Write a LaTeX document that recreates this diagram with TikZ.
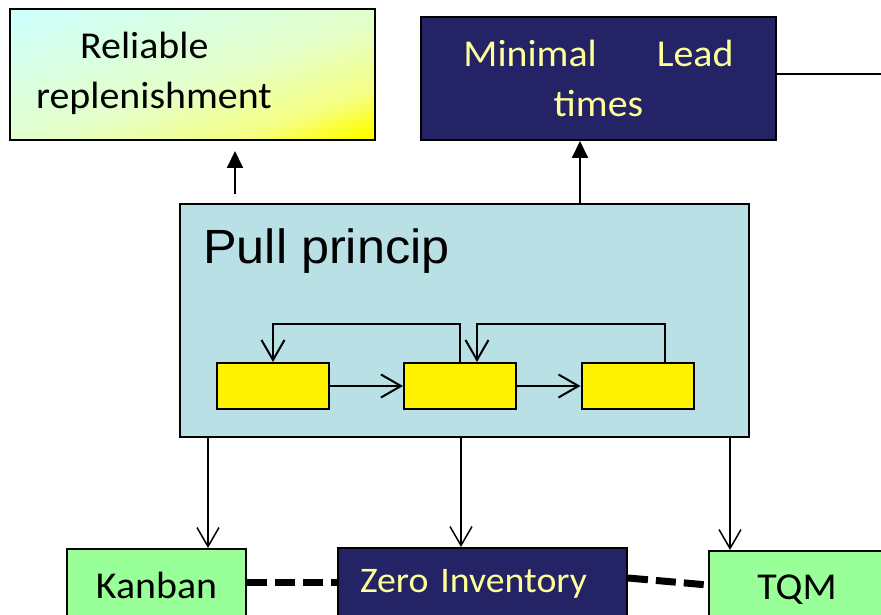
\documentclass[tikz,border=0pt]{standalone}
\usepackage{fontspec}
\setmainfont{Carlito}[FakeStretch=1.05]
\newfontfamily\arialfont{Liberation Sans}[FakeStretch=1.05]
\usetikzlibrary{arrows.meta}
\definecolor{navy}{RGB}{35,35,102}
\definecolor{paleyellow}{RGB}{255,255,153}
\definecolor{pullblue}{RGB}{185,224,228}
\definecolor{kgreen}{RGB}{153,255,153}
\definecolor{topcyan}{RGB}{204,255,255}
\definecolor{midgreen}{RGB}{228,255,200}
\definecolor{lightyellow}{RGB}{245,255,130}
\pgfdeclareverticalshading{relshade}{100bp}{color(0bp)=(yellow); color(17bp)=(yellow);
  color(28bp)=(lightyellow); color(47bp)=(midgreen); color(86bp)=(topcyan); color(100bp)=(topcyan)}

\begin{document}
\begin{tikzpicture}[x=1pt,y=-1pt,
  box/.style={draw=black,line width=2pt,rectangle,inner sep=0pt},
  bigfont/.style={font=\fontsize{38}{50}\selectfont},
  darkbox/.style={box,fill=navy,text=paleyellow,bigfont},
  greenbox/.style={box,fill=kgreen,bigfont},
  cell/.style={box,fill=yellow,minimum width=112pt,minimum height=46pt},
  barb/.style={-{Straight Barb[length=20pt,width=23pt]},line width=2pt},
  thinbarb/.style={-{Straight Barb[length=19pt,width=22pt]},line width=1.5pt},
  uparrow/.style={-{Triangle[length=17pt,width=16pt]},line width=2pt},
  link/.style={line width=7pt,dash pattern=on 20pt off 8pt}]

	\clip (0,0) rectangle (881,615);

	%top boxes
	\shade[shading=relshade,shading angle=45,
	  transform canvas={shift={(10,9)},xscale=3.65,yscale=1.31}] (0,0) rectangle (100,100); %gradient
	\node[box,minimum width=365pt,minimum height=131pt] (reliable) at (192.5,74.5) {};
	\node[bigfont,align=left,anchor=west,inner sep=0pt] (reliabletxt) at (36,73)
	  {\hspace*{44pt}Reliable\\replenishment};
	\node[darkbox,align=center,minimum width=355pt,minimum height=123pt] (leadtime)
	  at (598.5,78.5) {Minimal\hspace{60pt}Lead\\times};
	\coordinate (linkend) at (890,74);
	\draw[line width=2pt] (leadtime.east |- linkend) -- (linkend); %line to the right

	%pull box
	\node[box,fill=pullblue,minimum width=569pt,minimum height=233pt] (pull) at (464.5,320.5) {};
	\node[font=\arialfont\fontsize{48}{58}\selectfont,anchor=base west,inner sep=0pt]
	  (pulltxt) at (203,263) {Pull princip};

	%cells
	\node[cell] (c1) at (273,386) {};
	\node[cell] (c2) at (460,386) {};
	\node[cell] (c3) at (637.5,386) {};
	\draw[barb] (c1) -- (c2);
	\draw[barb] (c2) -- (c3);
	\draw[barb] (c2.north) -- ++(0,-38) -| (c1.north); %feedback 1
	\draw[barb] ([xshift=27.5pt]c3.north) -- ++(0,-38) -| ([xshift=17pt]c2.north); %feedback 2

	%up arrows
	\draw[uparrow,shorten <=9pt,shorten >=10pt] (pull.north -| 235,0) -- (reliable.south -| 235,0);
	\draw[uparrow] (pull.north -| 580,0) -- (leadtime.south -| 580,0);

	%bottom boxes
	\node[greenbox,minimum width=179pt,minimum height=73pt] (kanban) at (156.5,585.5) {Kanban};
	\node[darkbox,font=\fontsize{36}{44}\selectfont,text width=245pt,align=left,
	  minimum width=289pt,minimum height=71pt] (zero) at (482.5,583.5) {Zero Inventory};
	\node[greenbox,minimum width=176pt,minimum height=78pt] (tqm) at (797,590) {TQM};

	%down arrows
	\draw[thinbarb] (pull.south -| 208,0) -- (kanban.north -| 208,0);
	\draw[thinbarb] (pull.south -| 461,0) -- (zero.north -| 461,0);
	\draw[thinbarb] (pull.south -| 730,0) -- (tqm.north -| 730,0);

	%dashed links
	\draw[link] (kanban.east |- 0,582) -- (zero.west |- 0,582);
	\draw[link] (zero.east |- 0,578) -- (tqm.west |- 0,585);
\end{tikzpicture}
\end{document}
